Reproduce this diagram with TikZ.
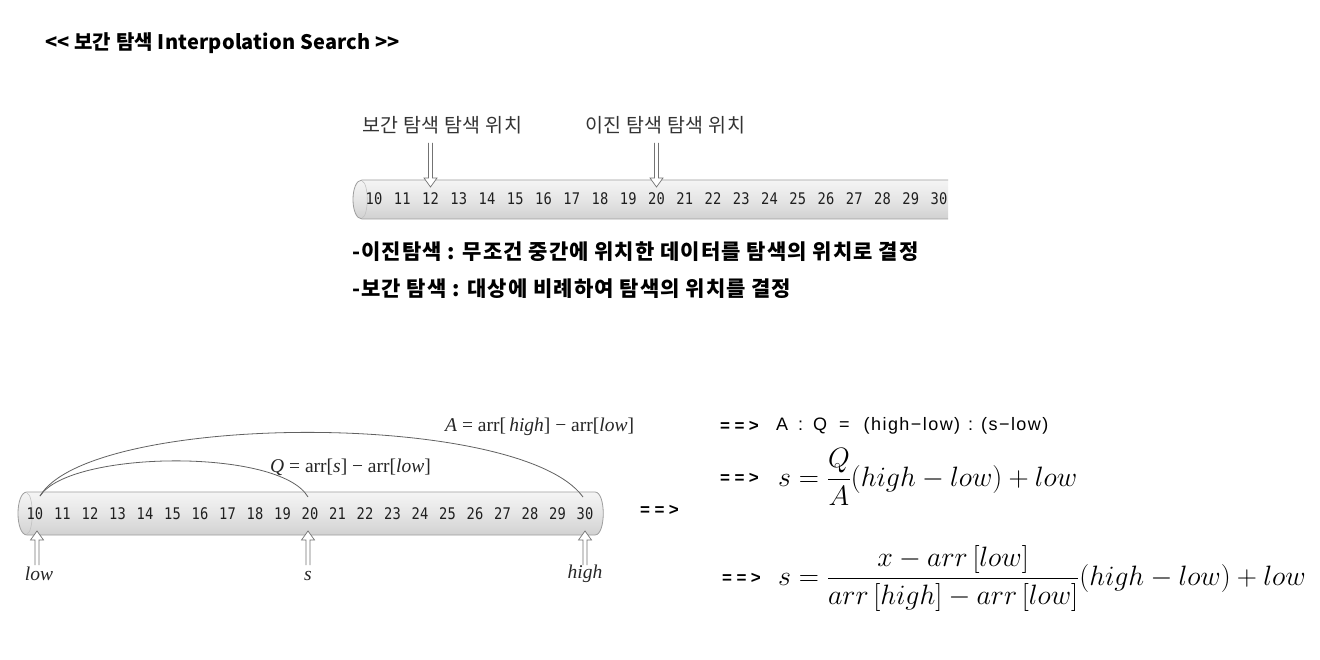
\RequirePackage{fix-cm}
\documentclass[tikz,border=0pt]{standalone}
\usepackage{fontspec}
\usepackage{amsmath}
\newfontfamily\kr{Noto Sans CJK KR}
\newfontfamily\mono[FakeStretch=0.86]{DejaVu Sans Mono}
\newfontfamily\arial{Liberation Sans}
\newfontfamily\tnr{Liberation Serif}
\usetikzlibrary{calc}
\tikzset{
  numtxt/.style={font=\mono\fontsize{16}{16}\selectfont, text=black!88, inner sep=0pt},
  tube/.style={draw=black!38, line width=0.8pt, top color=black!4, bottom color=black!18, middle color=black!10},
  tubecap/.style={draw=black!24, line width=0.6pt},
  arcline/.style={draw=black!62, line width=0.8pt},
  harrow/.style={draw=black!55, line width=0.7pt, fill=white},
  krlabel/.style={font=\kr\fontsize{19.5}{19.5}\selectfont\addfontfeature{LetterSpace=2.3}, text=black!80, inner sep=0pt, anchor=west},
  krbold/.style={font=\kr\bfseries\fontsize{21}{21}\selectfont\addfontfeature{LetterSpace=5}, inner sep=0pt, anchor=west},
  titlefont/.style={font=\kr\bfseries\fontsize{20}{20}\selectfont\addfontfeature{LetterSpace=1}, inner sep=0pt, anchor=west},
  serlabel/.style={font=\tnr\fontsize{19.5}{19.5}\selectfont, text=black!85, inner sep=0pt},
  gofont/.style={font=\arial\bfseries\fontsize{17}{17}\selectfont\addfontfeature{LetterSpace=26}, inner sep=0pt, anchor=west},
  ratio/.style={font=\arial\fontsize{18}{18}\selectfont\addfontfeature{LetterSpace=8}, inner sep=0pt, anchor=west},
  mathf/.style={font=\fontsize{28}{33}\selectfont, inner sep=0pt, anchor=base west},
  pics/hdown/.style={code={
    \draw[harrow] (-2,0) -- (-2,{#1-9}) -- (-6.5,{#1-9}) -- (0,#1) -- (6.5,{#1-9}) -- (2,{#1-9}) -- (2,0);}},
  pics/hup/.style={code={
    \draw[harrow] (-2,0) -- (-2,{-#1+9}) -- (-6.5,{-#1+9}) -- (0,-#1) -- (6.5,{-#1+9}) -- (2,{-#1+9}) -- (2,0);}}
}
\begin{document}
\begin{tikzpicture}[x=1pt,y=-1pt]
\useasboundingbox (0,0) rectangle (1320,660);
\fill[white] (0,0) rectangle (1320,660);

% title
\node[titlefont] (title) at (45,43) {<\kern0pt< 보간 탐색 Interpolation Search >\kern0pt>};

% ---- top array ----
\path[tube] (948,180) -- (362,180) .. controls (350,180) and (350,219) .. (362,219) -- (948,219);
\draw[tubecap] (362,181) .. controls (369,183) and (369,216) .. (362,218);
\foreach \v [count=\i from 0] in {10,...,30}
  \node[numtxt] (a\i) at ({374+28.25*\i},199) {\v};

\node[krlabel] (lab1) at (362,125) {보간 탐색 탐색 위치};
\node[krlabel] (lab2) at (585,125) {이진 탐색 탐색 위치};
\pic at ($(a2)+(0,-56)$) {hdown=44};
\pic at ($(a10)+(0,-56)$) {hdown=44};

% bullets
\node[krbold] (b1) at (352,252) {-이진탐색 : 무조건 중간에 위치한 데이터를 탐색의 위치로 결정};
\node[krbold] (b2) at (352,289) {-보간 탐색 : 대상에 비례하여 탐색의 위치를 결정};

% ---- bottom array ----
\path[tube] (27,492) -- (595,492) .. controls (606,492) and (606,535) .. (595,535) -- (27,535) .. controls (15,535) and (15,492) .. (27,492) -- cycle;
\draw[tubecap] (27,493) .. controls (34,495) and (34,532) .. (27,534);
\foreach \v [count=\i from 0] in {10,...,30}
  \node[numtxt] (b\i) at ({35+27.5*\i},514) {\v};

\coordinate (pl) at (40,496);
\coordinate (ps) at (308,497);
\coordinate (ph) at (583,497);
\draw[arcline] (pl) .. controls (90,412) and (520,410) .. (ph);
\draw[arcline] (pl) .. controls (70,450) and (280,448) .. (ps);

\node[serlabel, anchor=west] (Alab) at (445,427) {\textit{A} = arr[\,\textit{high}] − arr[\textit{low}]};
\node[serlabel, anchor=west] (Qlab) at (270,467) {\textit{Q} = arr[\textit{s}] − arr[\textit{low}]};

\pic at (37,565) {hup=34};
\pic at (308,565) {hup=34};
\pic at (585,565) {hup=34};
\node[serlabel] (low) at (39,574) {\textit{low}};
\node[serlabel] (s) at (308,576) {\textit{s}};
\node[serlabel] (high) at (585,574) {\textit{high}};

\node[gofont] (g0) at (640,510) {==>};

% ---- formulas ----
\node[gofont] (g1) at (720,426) {==>};
\node[ratio] (r1) at (776,426) {A\hspace{10pt}:\hspace{10pt}Q\hspace{12pt}=\hspace{14pt}(high−low)\hspace{8pt}:\hspace{8pt}(s−low)};
\node[gofont] (g2) at (720,478) {==>};
\node[mathf] (f2) at (778,486) {$\displaystyle s=\frac{Q}{A}(high-low)+low$};
\node[gofont] (g3) at (722,578) {==>};
\node[mathf] (f3) at (778,585.5) {$\displaystyle s=\frac{x-arr\,[low]}{arr\,[high]-arr\,[low]}(high-low)+low$};
\end{tikzpicture}
\end{document}
